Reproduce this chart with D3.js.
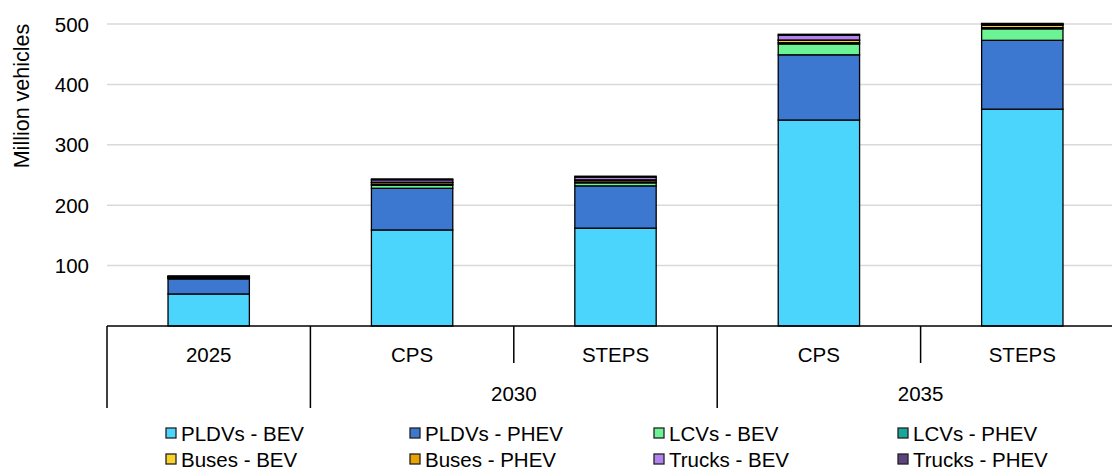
<!DOCTYPE html>
<html>
<head>
<meta charset="utf-8">
<script src="https://cdn.jsdelivr.net/npm/d3@7"></script>
<style>
  body { margin: 0; background: #fff; }
  text { font-family: "Liberation Sans", Arial, sans-serif; fill: #000; }
</style>
</head>
<body>
<svg id="chart" width="1112" height="470"></svg>
<script>
// data
const catLabels = ["2025", "CPS", "STEPS", "CPS", "STEPS"];
const catGroups = ["2025", "2030", "2030", "2035", "2035"];
const seriesNames = ["PLDVs - BEV", "PLDVs - PHEV", "LCVs - BEV", "LCVs - PHEV",
                     "Buses - BEV", "Buses - PHEV", "Trucks - BEV", "Trucks - PHEV"];
const pldvBev   = [53, 159, 162, 341, 359];
const pldvPhev  = [25, 69, 70, 108, 114];
const lcvBev    = [1.5, 5, 5, 18, 19];
const lcvPhev   = [0.3, 1.5, 1.5, 2, 2];
const busBev    = [1.5, 3, 3, 4, 4];
const busPhev   = [0.2, 0.5, 0.5, 0.5, 1];
const truckBev  = [1, 4, 4.5, 8, 1];
const truckPhev = [0.3, 1.5, 1.5, 1.5, 1];
const yTicks = [100, 200, 300, 400, 500];
const colors = ["#4bd5fd", "#3c78d0", "#6bf394", "#18a79b", "#fbd12c", "#e9a300", "#b283ee", "#5e437e"];

const allSeries = [pldvBev, pldvPhev, lcvBev, lcvPhev, busBev, busPhev, truckBev, truckPhev];

// build table for d3.stack
const keys = catLabels.map((d, i) => catGroups[i] + "|" + d);
const table = keys.map((k, i) => {
  const row = { key: k };
  seriesNames.forEach((s, j) => { row[s] = allSeries[j][i]; });
  return row;
});

const svg = d3.select("#chart");
const left = 107, right = 1112, plotRight = 107 + 5 * 203.4;
const fs = "20.5px";

const x = d3.scaleBand().domain(keys).range([left, plotRight]).paddingInner(0.6).paddingOuter(0.3);
const y = d3.scaleLinear().domain([0, 500]).range([326, 24]);

// gridlines
svg.append("g")
  .selectAll("line")
  .data(yTicks)
  .enter().append("line")
  .attr("x1", left).attr("x2", right)
  .attr("y1", d => y(d)).attr("y2", d => y(d))
  .style("stroke", "#d9d9d9").style("stroke-width", 1.5);

// y tick labels
svg.append("g")
  .selectAll("text")
  .data(yTicks)
  .enter().append("text")
  .attr("x", 89).attr("y", d => y(d))
  .attr("text-anchor", "end")
  .attr("dominant-baseline", "central")
  .style("font-size", fs)
  .text(d => d);

svg.append("text")
  .attr("transform", "translate(22,96) rotate(-90)")
  .attr("text-anchor", "middle")
  .attr("dominant-baseline", "central")
  .style("font-size", "21.5px")
  .text("Million vehicles");

// bars
const stacked = d3.stack().keys(seriesNames)(table);
svg.append("g")
  .selectAll("g")
  .data(stacked)
  .enter().append("g")
  .style("fill", (d, i) => colors[i])
  .selectAll("rect")
  .data(d => d)
  .enter().append("rect")
  .attr("x", d => x(d.data.key))
  .attr("width", x.bandwidth())
  .attr("y", d => y(d[1]))
  .attr("height", d => y(d[0]) - y(d[1]))
  .style("stroke", "#000")
  .style("stroke-width", 1.3);

// category axis
const step = x.step();
const cellLeft = k => x(k) - x.paddingOuter() * step;
const axis = svg.append("g");
axis.append("line").attr("x1", left).attr("x2", right).attr("y1", y(0)).attr("y2", y(0))
  .style("stroke", "#000").style("stroke-width", 1.5);

keys.forEach((k, i) => {
  const newGroup = i === 0 || catGroups[i] !== catGroups[i - 1];
  const xl = cellLeft(k);
  axis.append("line").attr("x1", xl).attr("x2", xl)
    .attr("y1", y(0)).attr("y2", newGroup ? 408 : 363)
    .style("stroke", "#000").style("stroke-width", 1.5);
  axis.append("text")
    .attr("x", x(k) + x.bandwidth() / 2).attr("y", 354)
    .attr("text-anchor", "middle").attr("dominant-baseline", "central")
    .style("font-size", fs)
    .text(catLabels[i]);
});

// second level labels
const groupNames = Array.from(new Set(catGroups)).filter(g => catLabels.indexOf(g) < 0);
groupNames.forEach(g => {
  const members = keys.filter((k, i) => catGroups[i] === g);
  const x0 = cellLeft(members[0]);
  const x1 = cellLeft(members[members.length - 1]) + step;
  axis.append("text")
    .attr("x", (x0 + x1) / 2).attr("y", 393)
    .attr("text-anchor", "middle").attr("dominant-baseline", "central")
    .style("font-size", fs)
    .text(g);
});

// legend
const legend = svg.append("g");
seriesNames.forEach((s, i) => {
  const col = i % 4, row = Math.floor(i / 4);
  const lx = 166 + col * 244, ly = 433 + row * 26;
  legend.append("rect").attr("x", lx).attr("y", ly - 5).attr("width", 10).attr("height", 10)
    .style("fill", colors[i]).style("stroke", "#222").style("stroke-width", 1.3);
  legend.append("text").attr("x", lx + 15).attr("y", ly)
    .attr("dominant-baseline", "central")
    .style("font-size", fs)
    .text(s);
});
</script>
</body>
</html>
